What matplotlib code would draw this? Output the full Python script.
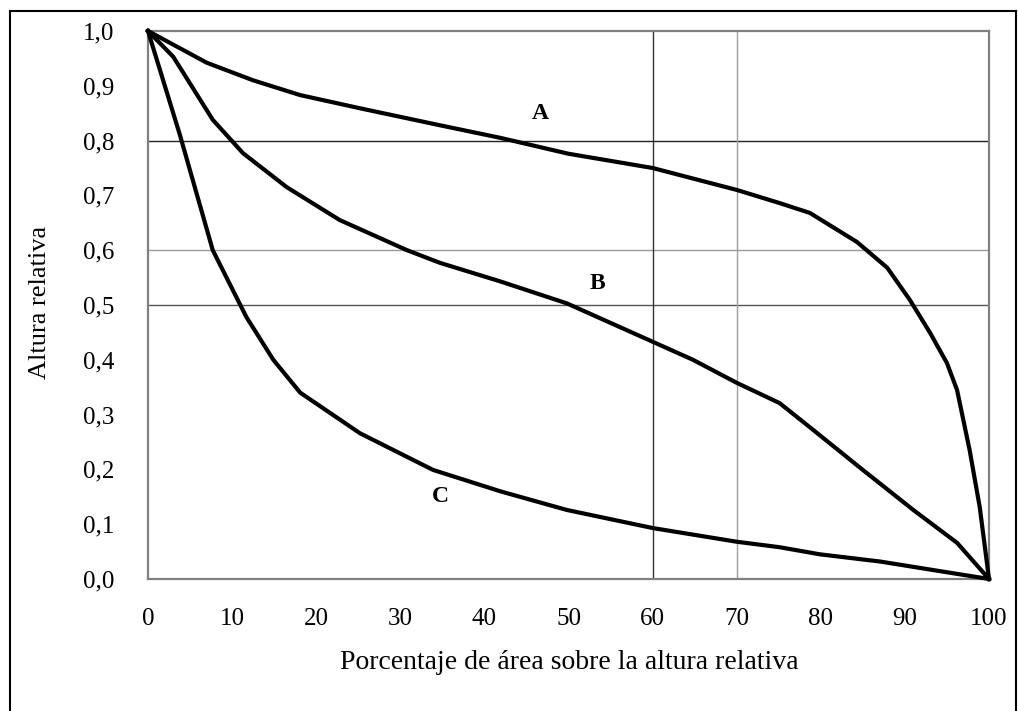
import matplotlib
matplotlib.use("Agg")
import matplotlib.pyplot as plt
from matplotlib.lines import Line2D

# Data
x_a = [0, 7.0, 12.5, 18.1, 25.2, 34.7, 41.9, 50, 60, 70, 75.1, 78.7, 84.3, 87.9, 90.6, 93.0, 95.0, 96.2, 97.7, 98.9, 100]
y_a = [1.0, 0.942, 0.910, 0.883, 0.859, 0.828, 0.805, 0.776, 0.750, 0.710, 0.686, 0.668, 0.615, 0.568, 0.509, 0.449, 0.394, 0.345, 0.235, 0.131, 0.0]

x_b = [0, 3.0, 7.7, 11.3, 16.5, 22.8, 30.8, 34.7, 41.9, 49.8, 60, 64.8, 70, 75.1, 79.1, 85.0, 91.0, 96.2, 100]
y_b = [1.0, 0.953, 0.838, 0.777, 0.715, 0.655, 0.600, 0.577, 0.543, 0.503, 0.433, 0.400, 0.358, 0.321, 0.272, 0.199, 0.126, 0.066, 0.0]

x_c = [0, 3.8, 7.7, 11.7, 14.9, 18.1, 25.2, 33.9, 41.9, 49.8, 60, 70, 75.1, 79.9, 87.0, 100]
y_c = [1.0, 0.810, 0.600, 0.478, 0.400, 0.340, 0.266, 0.199, 0.160, 0.126, 0.093, 0.068, 0.058, 0.045, 0.032, 0.0]

curve_labels = ["A", "B", "C"]
label_x = [46.6, 53.4, 34.8]
label_y = [0.85, 0.54, 0.15]

y_ticks = [0.0, 0.1, 0.2, 0.3, 0.4, 0.5, 0.6, 0.7, 0.8, 0.9, 1.0]
y_ticklabels = ["0,0", "0,1", "0,2", "0,3", "0,4", "0,5", "0,6", "0,7", "0,8", "0,9", "1,0"]
x_ticks = [0, 10, 20, 30, 40, 50, 60, 70, 80, 90, 100]
x_ticklabels = [str(v) for v in x_ticks]

h_grid = [0.5, 0.6, 0.8]
h_grid_colors = ["#555555", "#9a9a9a", "#222222"]
v_grid = [60, 70]
v_grid_colors = ["#333333", "#a0a0a0"]

plt.rcParams['font.family'] = ['Liberation Serif', 'DejaVu Serif']

fig = plt.figure(figsize=(10.18, 7.11), dpi=100)
ax = fig.add_axes([148/1018, 1-579/711, (989-148)/1018, (579-31)/711])

for v, c in zip(h_grid, h_grid_colors):
    ax.axhline(v, color=c, lw=1.0, zorder=1)
for v, c in zip(v_grid, v_grid_colors):
    ax.axvline(v, color=c, lw=1.0, zorder=1)

for xs, ys in [(x_a, y_a), (x_b, y_b), (x_c, y_c)]:
    ax.plot(xs, ys, color="black", lw=3.0, solid_joinstyle="round", zorder=3, clip_on=False)

for t, lx, ly in zip(curve_labels, label_x, label_y):
    ax.text(lx, ly, t, fontsize=17, fontweight="bold", ha="center", va="center", zorder=4)

ax.set_xlim(0, 100)
ax.set_ylim(0, 1.0)
ax.set_yticks(y_ticks)
ax.set_yticklabels(y_ticklabels)
ax.set_xticks(x_ticks)
ax.set_xticklabels(x_ticklabels)
ax.tick_params(axis="y", which="major", length=0, labelsize=18, pad=24)
ax.tick_params(axis="x", which="major", length=0, labelsize=18, pad=21)
ax.set_yticks(h_grid, minor=True)
ax.set_xticks([60, 70, 80], minor=True)
ax.tick_params(axis="y", which="minor", length=9, width=1.0, color="#444444", direction="out")
ax.tick_params(axis="x", which="minor", length=8, width=1.0, color="#444444", direction="out")

for s in ax.spines.values():
    s.set_color("#808080")
    s.set_linewidth(1.6)

ax.set_xlabel("Porcentaje de área sobre la altura relativa", fontsize=20)
ax.set_ylabel("Altura relativa", fontsize=19)
ax.xaxis.set_label_coords(0.501, -0.153)
ax.xaxis.label.set_va("center")
ax.yaxis.set_label_coords(-0.128, 0.505)
ax.yaxis.label.set_va("center")

# outer frame (left, top, right)
W, H = 1018, 711
fx0, fx1, fy0 = 10/W, 1016/W, 1 - 11/H
for xs, ys in [([fx0, fx0], [fy0, -0.01]), ([fx0, fx1], [fy0, fy0]), ([fx1, fx1], [fy0, -0.01])]:
    fig.add_artist(Line2D(xs, ys, transform=fig.transFigure, color="black", lw=1.5))

fig.savefig("out.png", dpi=100, facecolor="white")
